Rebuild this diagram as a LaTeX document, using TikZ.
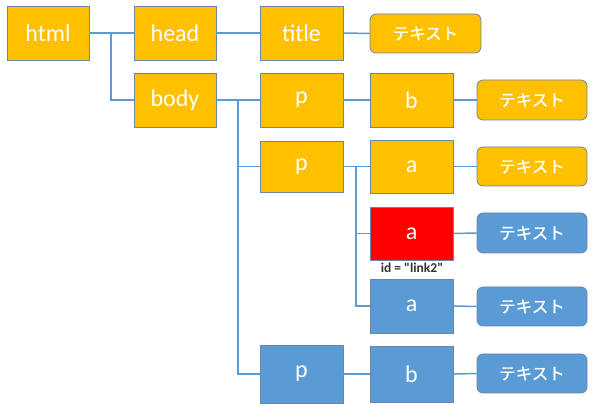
\documentclass[tikz,border=0pt]{standalone}
\usepackage{fontspec}
\setmainfont{Carlito}
\newfontfamily\jpfont[FakeBold=0.9]{Noto Sans CJK JP}
\definecolor{orng}{HTML}{FFC000}
\definecolor{blu}{HTML}{5B9BD5}
\definecolor{edgec}{HTML}{6A87A8}
\definecolor{redc}{HTML}{FF0000}
\begin{document}
\begin{tikzpicture}[x=1pt,y=-1pt,
  box/.style={draw=edgec, line width=0.8pt, minimum width=83pt, minimum height=54pt, inner sep=0pt, text=white, font=\fontsize{24}{28}\selectfont},
  txt/.style={draw=edgec, line width=0.8pt, rounded corners=6pt, minimum width=110pt, minimum height=39pt, inner sep=0pt, text=white, font=\jpfont\fontsize{16.5}{19}\selectfont},
  conn/.style={draw=blu, line width=1.5pt}]
\useasboundingbox (0,0) rectangle (600,411);
% boxes
\node[box, fill=orng, minimum width=82pt] (html) at (48,33) {html};
\node[box, fill=orng, minimum width=82pt] (head) at (175,33) {head};
\node[box, fill=orng, minimum width=82pt] (body) at (175,100) {body};
\node[box, fill=orng] (title) at (301.5,33) {title};
\node[box, fill=orng] (p1) at (301.5,100) {p};
\node[box, fill=orng, minimum height=51pt] (p2) at (301.5,166.5) {p};
\node[box, fill=blu, minimum height=58pt] (p3) at (301.5,374) {p};
\node[box, fill=orng] (b1) at (411.5,100) {b};
\node[box, fill=orng, minimum height=53pt] (a1) at (411.5,166.5) {a};
\node[box, fill=redc, minimum height=53pt] (ra) at (411.5,233.5) {a};
\node[box, fill=blu] (ba) at (411.5,306) {a};
\node[box, fill=blu, minimum height=56pt] (b3) at (411.5,374) {b};
\node[font=\bfseries\fontsize{13.5}{15}\selectfont, text={black!80}, inner sep=0pt] (lbl) at (412,268) {id = \textquotedbl link2\textquotedbl};
% text boxes
\node[txt, fill=orng, minimum width=111pt] (t0) at (425.5,33.5) {テキスト};
\node[txt, fill=orng, minimum height=40pt] (t1) at (532,100) {テキスト};
\node[txt, fill=orng] (t2) at (532,166.5) {テキスト};
\node[txt, fill=blu, minimum height=40pt] (t3) at (532,233) {テキスト};
\node[txt, fill=blu] (t4) at (532,306.5) {テキスト};
\node[txt, fill=blu] (t5) at (532,373.5) {テキスト};
% junctions
\coordinate (j1) at (111,33);
\coordinate (j2) at (238,100);
\coordinate (j3) at (356,166.5);
% connectors
\draw[conn] (html.east) -- (head.west);
\draw[conn] (j1) |- (body.west);
\draw[conn] (head.east) -- (title.west);
\draw[conn] (title.east) -- (t0.west);
\draw[conn] (body.east) -- (p1.west);
\draw[conn] (j2) |- (p2.west);
\draw[conn] (j2) |- (p3.west);
\draw[conn] (p1.east) -- (b1.west);
\draw[conn] (b1.east) -- (t1.west);
\draw[conn] (p2.east) -- (a1.west);
\draw[conn] (j3) |- (ra.west);
\draw[conn] (j3) |- (ba.west);
\draw[conn] (a1.east) -- (t2.west);
\draw[conn] (ra.east) -- (t3.west);
\draw[conn] (ba.east) -- (t4.west);
\draw[conn] (p3.east) -- (b3.west);
\draw[conn] (b3.east) -- (t5.west);
\end{tikzpicture}
\end{document}
